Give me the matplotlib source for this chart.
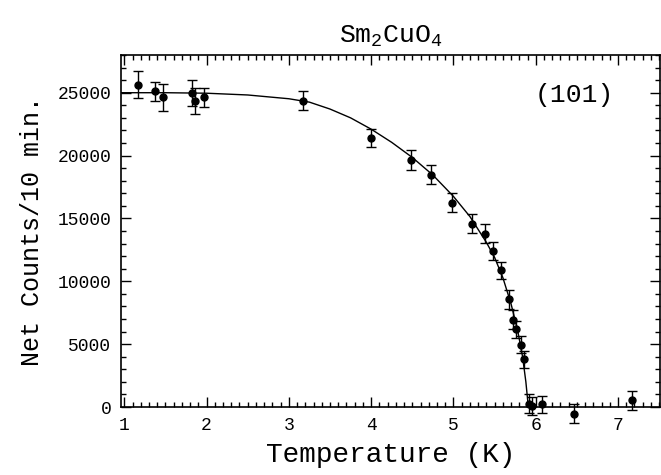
import matplotlib
matplotlib.use("Agg")
import matplotlib.pyplot as plt
from matplotlib.ticker import MultipleLocator

# measured points (T in K, counts per 10 min, error)
temps = [1.17, 1.37, 1.47, 1.82, 1.86, 1.97, 3.17, 4.0, 4.48, 4.73, 4.98,
         5.23, 5.38, 5.48, 5.58, 5.67, 5.72, 5.76, 5.82, 5.86, 5.92, 5.96,
         6.07, 6.47, 7.17]
counts = [25630, 25120, 24640, 24960, 24320, 24640, 24380, 21400, 19670,
          18470, 16250, 14580, 13780, 12400, 10870, 8560, 6950, 6180, 4960,
          3790, 270, 80, 210, -530, 530]
errors = [1070, 755, 1070, 1030, 1030, 770, 770, 750, 800, 770, 755, 740,
          740, 720, 700, 730, 740, 700, 690, 660, 770, 750, 700, 730, 730]

# fitted curve
fit_t = [0.96, 1.5, 2.0, 2.5, 3.0, 3.25, 3.5, 3.75, 4.0, 4.25, 4.5, 4.75,
         5.0, 5.2, 5.4, 5.5, 5.6, 5.7, 5.78, 5.84, 5.88, 5.91]
fit_i = [25000, 25000, 24960, 24820, 24520, 24250, 23700, 23000, 22100,
         21050, 19850, 18450, 16750, 15150, 13100, 11900, 10300, 8200, 6100,
         4000, 2000, 0]

plt.rcParams['font.family'] = ['Liberation Mono', 'DejaVu Sans Mono']

W, H = 661, 475
fig = plt.figure(figsize=(W / 100, H / 100), dpi=100)
ax = fig.add_axes([121 / W, 1 - 407 / H, (660 - 121) / W, (407 - 55) / H])

ax.plot(fit_t, fit_i, color='black', linewidth=1.0)
ax.errorbar(temps, counts, yerr=errors, fmt='o', color='black', markersize=5,
            elinewidth=1.0, capsize=3.5, capthick=1.0, clip_on=False)

ax.set_xlim(0.96, 7.51)
ax.set_ylim(0, 28000)
ax.xaxis.set_major_locator(MultipleLocator(1))
ax.xaxis.set_minor_locator(MultipleLocator(0.1))
ax.yaxis.set_major_locator(MultipleLocator(5000))
ax.yaxis.set_minor_locator(MultipleLocator(1000))
ax.tick_params(which='both', direction='in', top=True, right=True,
               labelsize=13, width=1.0)
ax.tick_params(which='major', length=7, pad=7)
ax.tick_params(which='minor', length=3.5)
for s in ax.spines.values():
    s.set_linewidth(1.2)

ax.text(6.47, 24800, "(101)", fontsize=19, ha='center', va='center')

ax.set_title("Sm$_\\mathregular{2}$CuO$_\\mathregular{4}$", fontsize=19, pad=9)
ax.set_xlabel("Temperature (K)", fontsize=20, labelpad=6)
ax.set_ylabel("Net Counts/10 min.", fontsize=18, labelpad=10)

fig.savefig("out.png", dpi=100)
